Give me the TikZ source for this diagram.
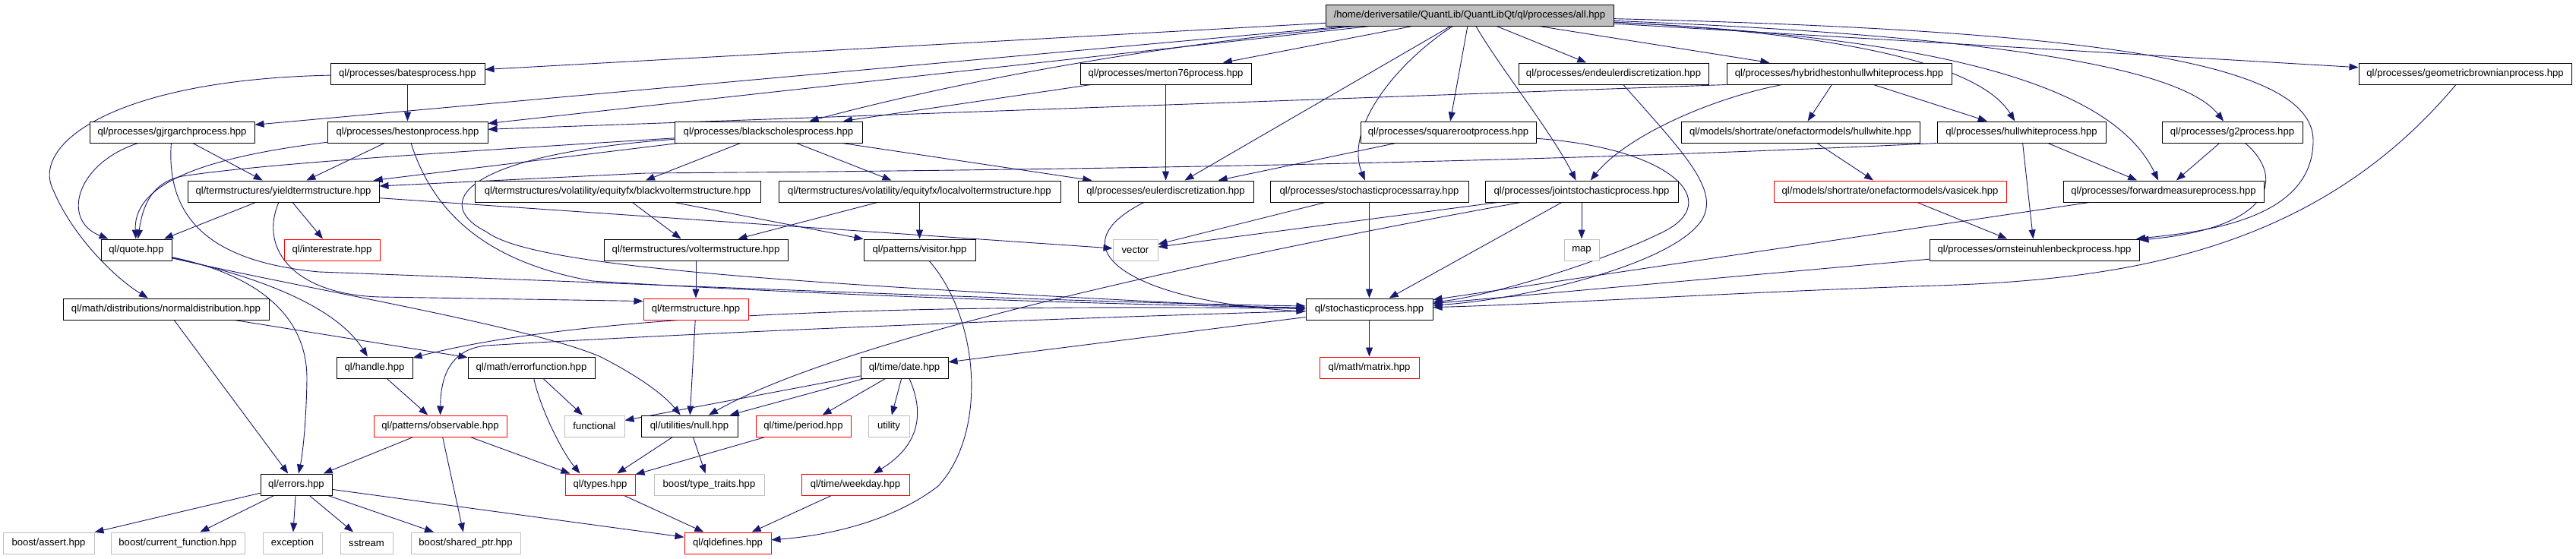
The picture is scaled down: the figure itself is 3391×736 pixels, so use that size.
\documentclass[tikz,border=0pt]{standalone}
\usepackage{fontspec}
\setmainfont{Liberation Sans}
\usetikzlibrary{arrows.meta,backgrounds}
\definecolor{edgeblue}{RGB}{25,25,112}
\definecolor{extgray}{RGB}{191,191,191}
\definecolor{truncred}{RGB}{255,0,0}
\begin{document}
\begin{tikzpicture}[x=1pt,y=-1pt,
  every node/.style={font=\fontsize{13.1}{15}\selectfont, inner sep=0pt, minimum height=28pt, fill=white, draw, line width=1pt, text=black},
  box/.style={draw=black},
  redbox/.style={draw=truncred},
  graybox/.style={draw=extgray},
  rootbox/.style={draw=black, fill=extgray},
  dep/.style={draw=edgeblue, line width=0.9pt, -{Triangle[length=12pt,width=9pt]}}]
\useasboundingbox (0,0) rectangle (3391,736);
% row 1
\node[rootbox, minimum width=379pt] (all) at (1934.5,20) {/home/deriversatile/QuantLib/QuantLibQt/ql/processes/all.hpp};
% row 2
\node[box, minimum width=203pt] (bates) at (536.5,97) {ql/processes/batesprocess.hpp};
\node[box, minimum width=225pt] (merton) at (1534.5,97) {ql/processes/merton76process.hpp};
\node[box, minimum width=250pt] (endeuler) at (2124,97) {ql/processes/endeulerdiscretization.hpp};
\node[box, minimum width=296pt] (hybrid) at (2421,97) {ql/processes/hybridhestonhullwhiteprocess.hpp};
\node[box, minimum width=280pt] (geometric) at (3245,97) {ql/processes/geometricbrownianprocess.hpp};
% row 3
\node[box, minimum width=217pt] (gjrgarch) at (226.5,174) {ql/processes/gjrgarchprocess.hpp};
\node[box, minimum width=211pt] (heston) at (536.5,174) {ql/processes/hestonprocess.hpp};
\node[box, minimum width=247pt] (blackscholes) at (1011.5,174) {ql/processes/blackscholesprocess.hpp};
\node[box, minimum width=231pt] (squareroot) at (1906.5,174) {ql/processes/squarerootprocess.hpp};
\node[box, minimum width=314pt] (hwmodel) at (2370,174) {ql/models/shortrate/onefactormodels/hullwhite.hpp};
\node[box, minimum width=222pt] (hwprocess) at (2661,174) {ql/processes/hullwhiteprocess.hpp};
\node[box, minimum width=185pt] (g2) at (2938.5,174) {ql/processes/g2process.hpp};
% row 4
\node[box, minimum width=252pt] (yield) at (373,252) {ql/termstructures/yieldtermstructure.hpp};
\node[box, minimum width=376pt] (blackvol) at (813,252) {ql/termstructures/volatility/equityfx/blackvoltermstructure.hpp};
\node[box, minimum width=371pt] (localvol) at (1210.5,252) {ql/termstructures/volatility/equityfx/localvoltermstructure.hpp};
\node[box, minimum width=231pt] (euler) at (1534.5,252) {ql/processes/eulerdiscretization.hpp};
\node[box, minimum width=261pt] (array) at (1802.5,252) {ql/processes/stochasticprocessarray.hpp};
\node[box, minimum width=254pt] (joint) at (2082,252) {ql/processes/jointstochasticprocess.hpp};
\node[redbox, minimum width=306pt] (vasicek) at (2488,252) {ql/models/shortrate/onefactormodels/vasicek.hpp};
\node[box, minimum width=264pt] (forward) at (2848,252) {ql/processes/forwardmeasureprocess.hpp};
% row 5
\node[box, minimum width=93pt] (quote) at (179.5,329) {ql/quote.hpp};
\node[redbox, minimum width=126pt] (interest) at (437,329) {ql/interestrate.hpp};
\node[box, minimum width=242pt] (volts) at (916,329) {ql/termstructures/voltermstructure.hpp};
\node[box, minimum width=147pt] (visitor) at (1210.5,329) {ql/patterns/visitor.hpp};
\node[graybox, minimum width=59pt] (vector) at (1494.5,329) {vector};
\node[graybox, minimum width=46pt] (map) at (2082,329) {map};
\node[box, minimum width=276pt] (ornstein) at (2678,329) {ql/processes/ornsteinuhlenbeckprocess.hpp};
% row 6
\node[box, minimum width=271pt] (normal) at (218.5,407) {ql/math/distributions/normaldistribution.hpp};
\node[redbox, minimum width=138pt] (ts) at (916,407) {ql/termstructure.hpp};
\node[box, minimum width=167pt] (stoch) at (1802.5,407) {ql/stochasticprocess.hpp};
% row 7
\node[box, minimum width=100pt] (handle) at (493,484) {ql/handle.hpp};
\node[box, minimum width=167pt] (erf) at (699.5,484) {ql/math/errorfunction.hpp};
\node[box, minimum width=115pt] (date) at (1190.5,484) {ql/time/date.hpp};
\node[redbox, minimum width=131pt] (matrix) at (1802.5,484) {ql/math/matrix.hpp};
% row 8
\node[redbox, minimum width=175pt] (observable) at (579.5,561) {ql/patterns/observable.hpp};
\node[graybox, minimum width=79pt] (functional) at (782.5,561) {functional};
\node[box, minimum width=127pt] (null) at (907.5,561) {ql/utilities/null.hpp};
\node[redbox, minimum width=125pt] (period) at (1057.5,561) {ql/time/period.hpp};
\node[graybox, minimum width=54pt] (utility) at (1170,561) {utility};
% row 9
\node[box, minimum width=94pt] (errors) at (390,638) {ql/errors.hpp};
\node[redbox, minimum width=92pt] (types) at (790,638) {ql/types.hpp};
\node[graybox, minimum width=145pt] (typetraits) at (933.5,638) {boost/type\_traits.hpp};
\node[redbox, minimum width=142pt] (weekday) at (1126,638) {ql/time/weekday.hpp};
% row 10
\node[graybox, minimum width=120pt] (assert) at (64,715) {boost/assert.hpp};
\node[graybox, minimum width=176pt] (curfunc) at (234,715) {boost/current\_function.hpp};
\node[graybox, minimum width=78pt] (exception) at (385,715) {exception};
\node[graybox, minimum width=69pt] (sstream) at (482.5,715) {sstream};
\node[graybox, minimum width=144pt] (sharedptr) at (613,715) {boost/shared\_ptr.hpp};
\node[redbox, minimum width=114pt] (qldefines) at (958,715) {ql/qldefines.hpp};

\begin{pgfonlayer}{background}
\fill[white] (0,0) rectangle (3391,736);
% from all.hpp
\draw[dep] (all) -- (bates);
\draw[dep] (all) -- (gjrgarch);
\draw[dep] (all) -- (heston);
\draw[dep] (all) .. controls (1500,62) and (1250,110) .. (blackscholes);
\draw[dep] (all) -- (merton);
\draw[dep] (all) -- (euler);
\draw[dep] (all) -- (squareroot);
\draw[dep] (all) .. controls (1835,85) and (1770,170) .. (array);
\draw[dep] (all) .. controls (1975,90) and (2040,170) .. (joint);
\draw[dep] (all) -- (endeuler);
\draw[dep] (all) -- (hybrid);
\draw[dep] (all) .. controls (2450,45) and (2610,90) .. (hwprocess);
\draw[dep] (all) .. controls (2550,50) and (2780,110) .. (forward);
\draw[dep] (all) .. controls (2700,50) and (2880,100) .. (g2);
\draw[dep] (all) .. controls (2750,40) and (3045,80) .. (3045,185) .. controls (3045,290) and (2900,305) .. (ornstein);
\draw[dep] (all) -- (geometric);
% processes
\draw[dep] (bates) -- (heston);
\draw[dep] (bates) .. controls (150,105) and (40,190) .. (70,250) .. controls (95,310) and (150,365) .. (normal);
\draw[dep] (gjrgarch) .. controls (100,215) and (80,290) .. (quote);
\draw[dep] (gjrgarch) -- (yield);
\draw[dep] (gjrgarch) .. controls (218,290) and (280,345) .. (420,358) .. controls (800,372) and (1400,398) .. ([yshift=4pt]stoch.west);
\draw[dep] (heston) .. controls (290,205) and (175,235) .. (quote);
\draw[dep] (heston) -- (yield);
\draw[dep] (heston) .. controls (570,280) and (640,345) .. (780,370) .. controls (1100,390) and (1500,402) .. ([yshift=2pt]stoch.west);
\draw[dep] (blackscholes) -- (yield);
\draw[dep] (blackscholes) .. controls (600,200) and (350,215) .. (240,232) .. controls (200,240) and (188,270) .. (quote);
\draw[dep] (blackscholes) .. controls (600,205) and (570,270) .. (640,305) .. controls (700,350) and (1000,372) .. (stoch.west);
\draw[dep] (blackscholes) -- (blackvol);
\draw[dep] (blackscholes) -- (localvol);
\draw[dep] (blackscholes) -- (euler);
\draw[dep] (merton) -- (blackscholes);
\draw[dep] (merton) -- (euler);
\draw[dep] (hybrid.south west) -- (heston);
\draw[dep] (hybrid) .. controls (2250,130) and (2140,180) .. (joint);
\draw[dep] (hybrid) -- (hwmodel);
\draw[dep] (hybrid) -- (hwprocess);
\draw[dep] (hwmodel) -- (vasicek);
\draw[dep] (vasicek) -- (ornstein);
\draw[dep] (hwprocess) -- (ornstein);
\draw[dep] (hwprocess) -- (forward);
\draw[dep] (hwprocess.south west) .. controls (2000,215) and (1400,224) .. (850,228) -- ([yshift=7pt]yield.east);
\draw[dep] (g2) -- (forward);
\draw[dep] (g2) .. controls (3010,235) and (2990,300) .. (ornstein);
\draw[dep] (forward) -- (stoch);
\draw[dep] (ornstein) -- (stoch);
\draw[dep] (geometric) .. controls (3050,330) and (2800,368) .. (2550,376) .. controls (2300,384) and (2050,400) .. (stoch);
\draw[dep] (squareroot) -- (euler);
\draw[dep] (squareroot) .. controls (2200,195) and (2270,265) .. (2190,305) .. controls (2110,345) and (1960,390) .. (stoch);
\draw[dep] (endeuler) .. controls (2215,200) and (2265,250) .. (2240,290) .. controls (2200,350) and (2000,395) .. (stoch);
\draw[dep] (array) -- (stoch);
\draw[dep] (array) -- (vector);
\draw[dep] (joint) -- (vector);
\draw[dep] (joint) -- (map);
\draw[dep] (joint) -- (stoch);
\draw[dep] (joint) .. controls (1650,330) and (1120,440) .. (null);
\draw[dep] (euler) .. controls (1380,330) and (1500,398) .. ([yshift=-3pt]stoch.west);
% term structures
\draw[dep] (yield) -- (quote);
\draw[dep] (yield) -- (interest);
\draw[dep] (yield) -- (vector);
\draw[dep] (yield) .. controls (340,330) and (390,388) .. (500,391) -- ([yshift=-4pt]ts.north west);
\draw[dep] (blackvol) -- (volts);
\draw[dep] (blackvol) -- (visitor);
\draw[dep] (localvol) -- (volts);
\draw[dep] (localvol) -- (visitor);
\draw[dep] (volts) -- (ts);
\draw[dep] (visitor) .. controls (1290,420) and (1300,570) .. (1235,640) .. controls (1170,690) and (1080,706) .. (qldefines);
\draw[dep] (ts) -- (null);
% stochasticprocess
\draw[dep] (stoch) -- (matrix);
\draw[dep] (stoch) -- (date);
\draw[dep] ([yshift=1pt]stoch.west) .. controls (1300,402) and (800,405) .. (handle);
\draw[dep] (stoch) .. controls (1200,425) and (800,445) .. (640,455) .. controls (590,460) and (580,500) .. (observable);
% date
\draw[dep] (date) -- (null);
\draw[dep] (date) -- (functional);
\draw[dep] (date) -- (period);
\draw[dep] (date) -- (utility);
\draw[dep] (date) .. controls (1220,550) and (1205,590) .. (weekday);
\draw[dep] (period) -- (types);
\draw[dep] (null) -- (types);
\draw[dep] (null) -- (typetraits);
\draw[dep] (types) -- (qldefines);
\draw[dep] (weekday) -- (qldefines);
% quote, normal, errors
\draw[dep] (quote) .. controls (330,362) and (440,400) .. (handle);
\draw[dep] (quote) .. controls (330,360) and (405,410) .. (404,500) .. controls (403,560) and (398,600) .. (errors);
\draw[dep] (quote) .. controls (400,380) and (700,430) .. (791,470) .. controls (830,490) and (870,515) .. (null);
\draw[dep] (normal) -- (errors);
\draw[dep] (normal) -- (erf);
\draw[dep] (handle) -- (observable);
\draw[dep] (erf) -- (functional);
\draw[dep] (erf) .. controls (712,540) and (740,595) .. ([xshift=20pt]types.north west);
\draw[dep] (observable) -- (errors);
\draw[dep] (observable) -- (sharedptr);
\draw[dep] (observable) -- (types);
\draw[dep] (errors) -- (assert);
\draw[dep] (errors) -- (curfunc);
\draw[dep] (errors) -- (exception);
\draw[dep] (errors) -- (sstream);
\draw[dep] (errors) -- (sharedptr);
\draw[dep] (errors) -- (qldefines);
\end{pgfonlayer}
\end{tikzpicture}
\end{document}
